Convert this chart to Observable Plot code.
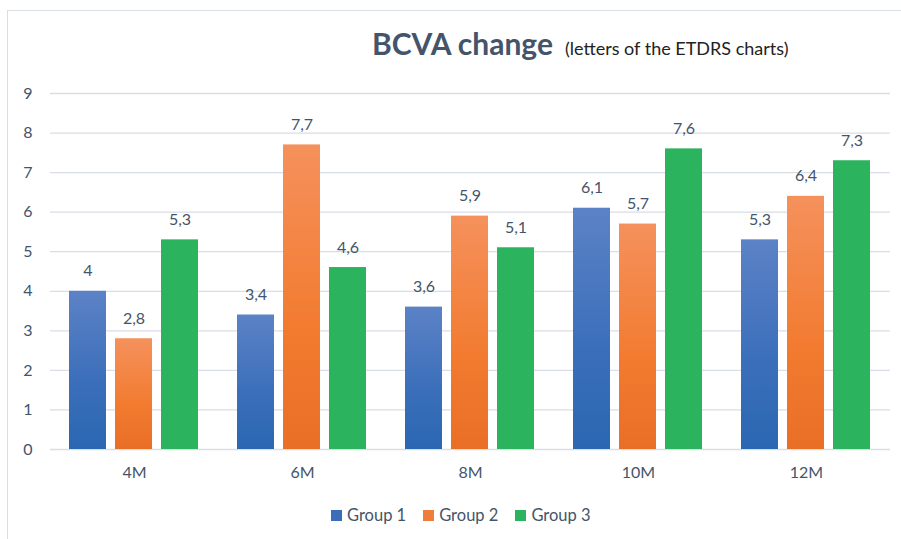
<!DOCTYPE html>
<html>
<head>
<meta charset="utf-8">
<script src="https://cdn.jsdelivr.net/npm/d3@7"></script>
<script src="https://cdn.jsdelivr.net/npm/@observablehq/plot@0.6"></script>
<style>
  html, body { margin: 0; padding: 0; background: #fff; }
  body { width: 901px; height: 539px; overflow: hidden; position: relative; font-family: Lato, "Open Sans", sans-serif; }
  #frame { position: absolute; left: 7px; top: 10px; width: 1000px; height: 600px; border: 1px solid #D9DEE6; box-sizing: border-box; }
  #title { position: absolute; left: 372px; top: 25px; white-space: nowrap; color: #44546A; }
  #title .main { font-weight: 700; font-size: 30px; }
  #title .sub { font-size: 18px; margin-left: 12px; color: #222; }
  #chart { position: absolute; left: 0; top: 0; }
  #legend { position: absolute; top: 505px; left: 331px; display: flex; gap: 17px; font-size: 16.5px; color: #44546A; white-space: nowrap; }
  #legend .item { display: flex; align-items: center; }
  #legend .sw { width: 11px; height: 11px; margin-right: 5px; display: inline-block; }
</style>
</head>
<body>
<div id="frame"></div>
<div id="title"><span class="main">BCVA change</span><span class="sub">(letters of the ETDRS charts)</span></div>
<div id="chart"></div>
<div id="legend"></div>
<script>
const categories = ["4M", "6M", "8M", "10M", "12M"];
const groups = ["Group 1", "Group 2", "Group 3"];
const group1 = [4, 3.4, 3.6, 6.1, 5.3];
const group2 = [2.8, 7.7, 5.9, 5.7, 6.4];
const group3 = [5.3, 4.6, 5.1, 7.6, 7.3];
const yTicks = [0, 1, 2, 3, 4, 5, 6, 7, 8, 9];
const swatchColors = ["#3A6EBB", "#F07C3A", "#2BB35E"];

const series = [group1, group2, group3];
const data = [];
categories.forEach((c, i) => {
  groups.forEach((g, j) => data.push({cat: c, group: g, value: series[j][i]}));
});

const fmt = v => String(v).replace(".", ",");

function defs() {
  const ns = "http://www.w3.org/2000/svg";
  const d = document.createElementNS(ns, "defs");
  d.innerHTML = `
    <linearGradient id="gBlue" x1="0" y1="0" x2="0" y2="1">
      <stop offset="0" stop-color="#5C82C6"/>
      <stop offset="0.6" stop-color="#3A6EBA"/>
      <stop offset="1" stop-color="#2A67B2"/>
    </linearGradient>
    <linearGradient id="gOrange" x1="0" y1="0" x2="0" y2="1">
      <stop offset="0" stop-color="#F5915C"/>
      <stop offset="0.6" stop-color="#F27B30"/>
      <stop offset="1" stop-color="#E96F26"/>
    </linearGradient>`;
  return d;
}

const chart = Plot.plot({
  width: 901,
  height: 500,
  marginLeft: 48,
  marginRight: 9,
  marginTop: 93,
  marginBottom: 51,
  style: { fontFamily: "Lato, 'Open Sans', sans-serif", fontSize: "16px", color: "#44546A", background: "transparent" },
  fx: { domain: categories, padding: 0, axis: "bottom", tickSize: 0, tickPadding: 17, label: null },
  x: { domain: groups, paddingInner: 0.19, paddingOuter: 0.39, axis: null },
  y: { domain: [0, 9], ticks: yTicks, tickSize: 0, tickPadding: 18, label: null, tickFormat: d => d },
  color: { domain: groups, range: ["url(#gBlue)", "url(#gOrange)", "#2BB35E"] },
  marks: [
    defs,
    Plot.ruleY(yTicks, { stroke: "#D9DEE6", strokeWidth: 1.3 }),
    Plot.barY(data, { fx: "cat", x: "group", y: "value", fill: "group" }),
    Plot.text(data, { fx: "cat", x: "group", y: "value", text: d => fmt(d.value), dy: -20, fill: "#44546A", fontSize: 16 })
  ]
});
document.getElementById("chart").appendChild(chart);

const legend = document.getElementById("legend");
groups.forEach((g, i) => {
  const it = document.createElement("div");
  it.className = "item";
  it.innerHTML = `<span class="sw" style="background:${swatchColors[i]}"></span><span>${g}</span>`;
  legend.appendChild(it);
});
</script>
</body>
</html>
